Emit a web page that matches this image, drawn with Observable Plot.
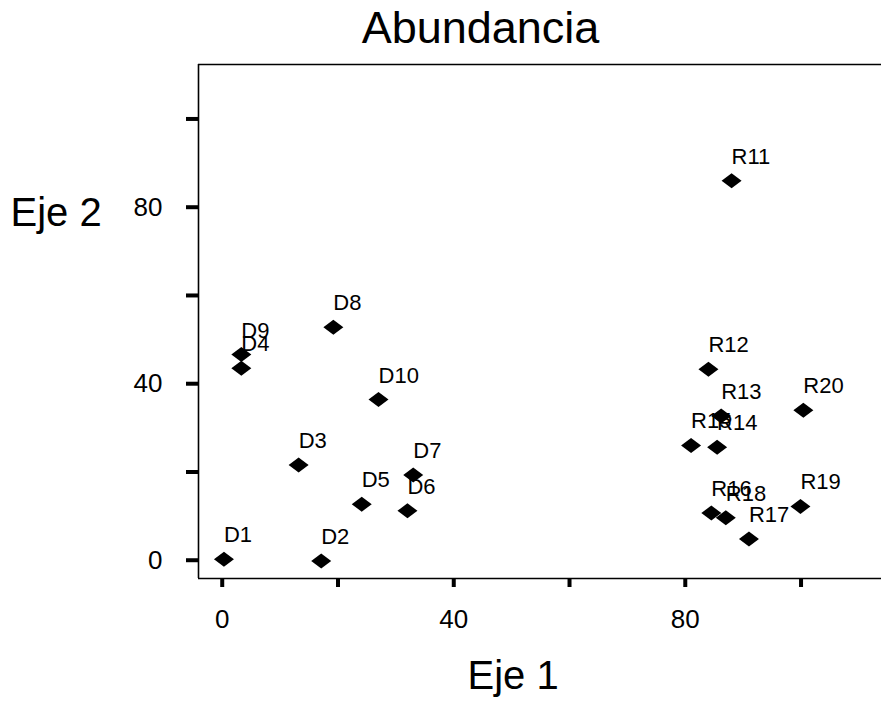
<!DOCTYPE html>
<html><head><meta charset="utf-8">
<script src="https://cdn.jsdelivr.net/npm/d3@7"></script>
<script src="https://cdn.jsdelivr.net/npm/@observablehq/plot@0.6"></script>
<style>body{margin:0;background:#fff} svg{display:block}</style>
</head><body><div id="chart"></div>
<script>
const labels = ["D1","D2","D3","D4","D5","D6","D7","D8","D9","D10","R11","R12","R13","R14","R15","R16","R17","R18","R19","R20"];
const xValues = [0.3,17.1,13.2,3.3,24.1,32.0,33.0,19.2,3.3,27.0,88.0,84.0,86.2,85.5,81.0,84.5,91.0,87.0,99.9,100.4];
const yValues = [0.2,-0.2,21.6,43.5,12.7,11.2,19.3,52.8,46.6,36.4,86.0,43.3,32.7,25.6,26.0,10.7,4.8,9.6,12.2,34.0];
const xTicks = [0,20,40,60,80,100];
const yTicks = [0,20,40,60,80,100];
const tickLabels = [0,40,80];
const chartTitle = "Abundancia";
const xTitle = "Eje 1";
const yTitle = "Eje 2";

const data = labels.map((l,i)=>({label:l, x:xValues[i], y:yValues[i]}));
const wideDiamond = { draw(ctx, size){ const s=Math.sqrt(size/Math.PI); const h=s*0.75; ctx.moveTo(-s,0); ctx.lineTo(0,-h); ctx.lineTo(s,0); ctx.lineTo(0,h); ctx.closePath(); } };
const fmt = d => tickLabels.includes(d) ? String(d) : "";

const xDomain = [-4.1, 113.9], yDomain = [-4.14, 112.34];
const plot = Plot.plot({
  width: 881, height: 705, marginLeft: 198, marginRight: 0, marginTop: 64, marginBottom: 127,
  style: {fontFamily: "'Liberation Sans', Arial, sans-serif", background: "#fff", color: "#000", overflow: "visible"},
  x: {domain: xDomain},
  y: {domain: yDomain},
  marks: [
    Plot.ruleX([xDomain[0]], {stroke: "#000", strokeWidth: 1.6}),
    Plot.ruleY(yDomain, {stroke: "#000", strokeWidth: 1.6}),
    Plot.axisX({ticks: xTicks, tickSize: 9, strokeWidth: 4, tickPadding: 22, fontSize: 26, tickFormat: fmt, label: null}),
    Plot.axisY({ticks: yTicks, tickSize: 12, strokeWidth: 4, tickPadding: 24, fontSize: 26, tickFormat: fmt, label: null}),
    Plot.dot(data, {x: "x", y: "y", symbol: wideDiamond, r: 10, fill: "#000", stroke: "none"}),
    Plot.text(data, {x: "x", y: "y", text: "label", textAnchor: "start", lineAnchor: "bottom", dy: -17, fontSize: 22, fill: "#000"}),
    Plot.text([chartTitle], {frameAnchor: "top-left", textAnchor: "middle", lineAnchor: "bottom", dx: 282, dy: -22, fontSize: 45, fill: "#000"}),
    Plot.text([yTitle], {frameAnchor: "top-left", textAnchor: "start", lineAnchor: "bottom", dx: -188, dy: 161, fontSize: 40, fill: "#000"}),
    Plot.text([xTitle], {frameAnchor: "top-left", textAnchor: "start", lineAnchor: "bottom", dx: 269, dy: 624, fontSize: 40, fill: "#000"})
  ]
});
document.getElementById("chart").appendChild(plot);
</script>
</body></html>
